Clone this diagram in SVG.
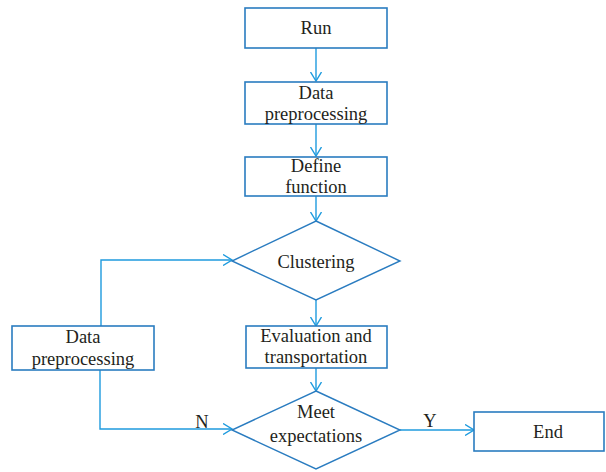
<svg xmlns="http://www.w3.org/2000/svg" width="606" height="472" viewBox="0 0 606 472">
<style>
.box{fill:#fff;stroke:#2a7cc0;stroke-width:1.6}
.dia{fill:#fff;stroke:#2a7cc0;stroke-width:1.4}
.t{font-family:'Liberation Serif','Times New Roman',serif;font-size:18.5px;fill:#231f20;text-anchor:middle}
.c{fill:none;stroke:#1f9bde;stroke-width:1.4}
</style>
<defs>
<marker id="ah" viewBox="0 0 10 12" refX="9" refY="6" markerWidth="10" markerHeight="12" markerUnits="userSpaceOnUse" orient="auto">
<path d="M0,0.5 L9,6 L0,11.5" fill="none" stroke="#1f9bde" stroke-width="1.4"/>
</marker>
</defs>
<rect width="606" height="472" fill="#fff"/>
<g id="connectors">
<path class="c" d="M316,48 V81" marker-end="url(#ah)"/>
<path class="c" d="M316,124 V156" marker-end="url(#ah)"/>
<path class="c" d="M316,196 V221" marker-end="url(#ah)"/>
<path class="c" d="M316,300 V326" marker-end="url(#ah)"/>
<path class="c" d="M316,368 V391" marker-end="url(#ah)"/>
<path class="c" d="M101,326 V260 H232" marker-end="url(#ah)"/>
<path class="c" d="M100,370 V429 H232" marker-end="url(#ah)"/>
<path class="c" d="M400,430 H474" marker-end="url(#ah)"/>
<text class="t" x="202" y="428">N</text>
<text class="t" x="430" y="427">Y</text>
</g>
<g id="run"><rect class="box" x="245" y="8" width="142" height="40"/><text class="t" x="316" y="34">Run</text></g>
<g id="preprocess1"><rect class="box" x="245" y="82" width="142" height="42"/><text class="t" x="316" y="99">Data</text><text class="t" x="316" y="120">preprocessing</text></g>
<g id="define"><rect class="box" x="245" y="157" width="142" height="39"/><text class="t" x="316" y="172">Define</text><text class="t" x="316" y="193">function</text></g>
<g id="clustering"><polygon class="dia" points="316,221 400,261 316,300 232,261"/><text class="t" x="316" y="268">Clustering</text></g>
<g id="preprocess2"><rect class="box" x="12" y="326" width="142" height="44"/><text class="t" x="83" y="343">Data</text><text class="t" x="83" y="365">preprocessing</text></g>
<g id="evaluation"><rect class="box" x="246" y="326" width="141" height="42"/><text class="t" x="316" y="342">Evaluation and</text><text class="t" x="316" y="363">transportation</text></g>
<g id="meet"><polygon class="dia" points="316,391 400,430 316,469 232,430"/><text class="t" x="316" y="418">Meet</text><text class="t" x="316" y="442">expectations</text></g>
<g id="end"><rect class="box" x="474" y="412" width="130" height="39"/><text class="t" x="548" y="438">End</text></g>
</svg>
